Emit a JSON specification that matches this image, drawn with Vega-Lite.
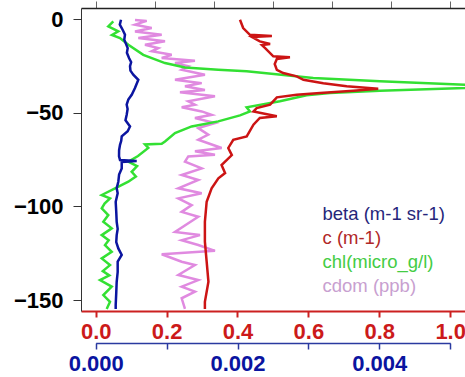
{
  "$schema": "https://vega.github.io/schema/vega-lite/v6.json",
  "width": 384,
  "height": 303,
  "autosize": {"type": "none"},
  "padding": {"left": 81, "top": 8, "right": 0, "bottom": 66},
  "background": "white",
  "config": {"view": {"stroke": null}, "axis": {"grid": false, "labelFlush": false, "labelOverlap": false, "title": null}},
  "datasets": {
    "beta": [
      {"series": "beta (m-1 sr-1)", "depth": -0.4, "value": 0.000357},
      {"series": "beta (m-1 sr-1)", "depth": -3.0, "value": 0.000340},
      {"series": "beta (m-1 sr-1)", "depth": -4.8, "value": 0.000367},
      {"series": "beta (m-1 sr-1)", "depth": -6.5, "value": 0.000390},
      {"series": "beta (m-1 sr-1)", "depth": -8.4, "value": 0.000413},
      {"series": "beta (m-1 sr-1)", "depth": -11.0, "value": 0.000403},
      {"series": "beta (m-1 sr-1)", "depth": -15.5, "value": 0.000451},
      {"series": "beta (m-1 sr-1)", "depth": -18.0, "value": 0.000440},
      {"series": "beta (m-1 sr-1)", "depth": -20.8, "value": 0.000470},
      {"series": "beta (m-1 sr-1)", "depth": -23.0, "value": 0.000500},
      {"series": "beta (m-1 sr-1)", "depth": -25.1, "value": 0.000484},
      {"series": "beta (m-1 sr-1)", "depth": -27.5, "value": 0.000490},
      {"series": "beta (m-1 sr-1)", "depth": -29.7, "value": 0.000530},
      {"series": "beta (m-1 sr-1)", "depth": -32.4, "value": 0.000601},
      {"series": "beta (m-1 sr-1)", "depth": -36.8, "value": 0.000554},
      {"series": "beta (m-1 sr-1)", "depth": -40.4, "value": 0.000508},
      {"series": "beta (m-1 sr-1)", "depth": -43.0, "value": 0.000460},
      {"series": "beta (m-1 sr-1)", "depth": -45.7, "value": 0.000437},
      {"series": "beta (m-1 sr-1)", "depth": -48.0, "value": 0.000450},
      {"series": "beta (m-1 sr-1)", "depth": -51.1, "value": 0.000437},
      {"series": "beta (m-1 sr-1)", "depth": -54.0, "value": 0.000420},
      {"series": "beta (m-1 sr-1)", "depth": -57.3, "value": 0.000484},
      {"series": "beta (m-1 sr-1)", "depth": -59.9, "value": 0.000451},
      {"series": "beta (m-1 sr-1)", "depth": -62.6, "value": 0.000367},
      {"series": "beta (m-1 sr-1)", "depth": -65.0, "value": 0.000360},
      {"series": "beta (m-1 sr-1)", "depth": -67.1, "value": 0.000343},
      {"series": "beta (m-1 sr-1)", "depth": -70.0, "value": 0.000330},
      {"series": "beta (m-1 sr-1)", "depth": -73.3, "value": 0.000329},
      {"series": "beta (m-1 sr-1)", "depth": -75.2, "value": 0.000343},
      {"series": "beta (m-1 sr-1)", "depth": -75.8, "value": 0.000578},
      {"series": "beta (m-1 sr-1)", "depth": -76.3, "value": 0.000367},
      {"series": "beta (m-1 sr-1)", "depth": -79.7, "value": 0.000367},
      {"series": "beta (m-1 sr-1)", "depth": -83.0, "value": 0.000330},
      {"series": "beta (m-1 sr-1)", "depth": -86.8, "value": 0.000319},
      {"series": "beta (m-1 sr-1)", "depth": -90.3, "value": 0.000296},
      {"series": "beta (m-1 sr-1)", "depth": -93.0, "value": 0.000310},
      {"series": "beta (m-1 sr-1)", "depth": -97.5, "value": 0.000282},
      {"series": "beta (m-1 sr-1)", "depth": -103.0, "value": 0.000290},
      {"series": "beta (m-1 sr-1)", "depth": -108.2, "value": 0.000296},
      {"series": "beta (m-1 sr-1)", "depth": -112.0, "value": 0.000310},
      {"series": "beta (m-1 sr-1)", "depth": -115.3, "value": 0.000296},
      {"series": "beta (m-1 sr-1)", "depth": -119.0, "value": 0.000290},
      {"series": "beta (m-1 sr-1)", "depth": -122.4, "value": 0.000319},
      {"series": "beta (m-1 sr-1)", "depth": -125.9, "value": 0.000367},
      {"series": "beta (m-1 sr-1)", "depth": -129.5, "value": 0.000310},
      {"series": "beta (m-1 sr-1)", "depth": -135.0, "value": 0.000310},
      {"series": "beta (m-1 sr-1)", "depth": -140.2, "value": 0.000296},
      {"series": "beta (m-1 sr-1)", "depth": -146.0, "value": 0.000290},
      {"series": "beta (m-1 sr-1)", "depth": -152.6, "value": 0.000282},
      {"series": "beta (m-1 sr-1)", "depth": -154.7, "value": 0.000282}
    ],
    "c": [
      {"series": "c (m-1)", "depth": -0.4, "value": 0.407},
      {"series": "c (m-1)", "depth": -4.8, "value": 0.416},
      {"series": "c (m-1)", "depth": -8.4, "value": 0.435},
      {"series": "c (m-1)", "depth": -9.1, "value": 0.497},
      {"series": "c (m-1)", "depth": -9.6, "value": 0.441},
      {"series": "c (m-1)", "depth": -11.9, "value": 0.463},
      {"series": "c (m-1)", "depth": -13.3, "value": 0.492},
      {"series": "c (m-1)", "depth": -13.9, "value": 0.469},
      {"series": "c (m-1)", "depth": -15.5, "value": 0.478},
      {"series": "c (m-1)", "depth": -19.9, "value": 0.501},
      {"series": "c (m-1)", "depth": -20.4, "value": 0.548},
      {"series": "c (m-1)", "depth": -21.3, "value": 0.511},
      {"series": "c (m-1)", "depth": -24.0, "value": 0.505},
      {"series": "c (m-1)", "depth": -27.1, "value": 0.511},
      {"series": "c (m-1)", "depth": -28.8, "value": 0.529},
      {"series": "c (m-1)", "depth": -30.6, "value": 0.567},
      {"series": "c (m-1)", "depth": -32.4, "value": 0.586},
      {"series": "c (m-1)", "depth": -34.2, "value": 0.642},
      {"series": "c (m-1)", "depth": -35.9, "value": 0.708},
      {"series": "c (m-1)", "depth": -37.2, "value": 0.797},
      {"series": "c (m-1)", "depth": -38.3, "value": 0.727},
      {"series": "c (m-1)", "depth": -39.5, "value": 0.633},
      {"series": "c (m-1)", "depth": -40.4, "value": 0.567},
      {"series": "c (m-1)", "depth": -41.8, "value": 0.511},
      {"series": "c (m-1)", "depth": -45.7, "value": 0.492},
      {"series": "c (m-1)", "depth": -47.5, "value": 0.454},
      {"series": "c (m-1)", "depth": -49.3, "value": 0.445},
      {"series": "c (m-1)", "depth": -51.9, "value": 0.511},
      {"series": "c (m-1)", "depth": -52.8, "value": 0.463},
      {"series": "c (m-1)", "depth": -56.4, "value": 0.445},
      {"series": "c (m-1)", "depth": -62.6, "value": 0.426},
      {"series": "c (m-1)", "depth": -64.4, "value": 0.388},
      {"series": "c (m-1)", "depth": -68.8, "value": 0.374},
      {"series": "c (m-1)", "depth": -72.6, "value": 0.384},
      {"series": "c (m-1)", "depth": -77.9, "value": 0.355},
      {"series": "c (m-1)", "depth": -82.2, "value": 0.365},
      {"series": "c (m-1)", "depth": -85.0, "value": 0.346},
      {"series": "c (m-1)", "depth": -90.3, "value": 0.327},
      {"series": "c (m-1)", "depth": -97.5, "value": 0.313},
      {"series": "c (m-1)", "depth": -108.2, "value": 0.308},
      {"series": "c (m-1)", "depth": -118.8, "value": 0.308},
      {"series": "c (m-1)", "depth": -129.5, "value": 0.313},
      {"series": "c (m-1)", "depth": -140.2, "value": 0.318},
      {"series": "c (m-1)", "depth": -150.9, "value": 0.308},
      {"series": "c (m-1)", "depth": -154.7, "value": 0.308}
    ],
    "chl": [
      {"series": "chl(micro_g/l)", "depth": -1.2, "value": 0.298},
      {"series": "chl(micro_g/l)", "depth": -3.9, "value": 0.213},
      {"series": "chl(micro_g/l)", "depth": -6.6, "value": 0.382},
      {"series": "chl(micro_g/l)", "depth": -8.5, "value": 0.276},
      {"series": "chl(micro_g/l)", "depth": -10.1, "value": 0.411},
      {"series": "chl(micro_g/l)", "depth": -13.7, "value": 0.552},
      {"series": "chl(micro_g/l)", "depth": -19.1, "value": 0.805},
      {"series": "chl(micro_g/l)", "depth": -23.5, "value": 1.173},
      {"series": "chl(micro_g/l)", "depth": -25.8, "value": 1.511},
      {"series": "chl(micro_g/l)", "depth": -27.1, "value": 2.074},
      {"series": "chl(micro_g/l)", "depth": -27.9, "value": 2.555},
      {"series": "chl(micro_g/l)", "depth": -31.5, "value": 3.682},
      {"series": "chl(micro_g/l)", "depth": -33.2, "value": 4.810},
      {"series": "chl(micro_g/l)", "depth": -35.1, "value": 6.249},
      {"series": "chl(micro_g/l)", "depth": -35.8, "value": 6.587},
      {"series": "chl(micro_g/l)", "depth": -36.8, "value": 6.249},
      {"series": "chl(micro_g/l)", "depth": -38.3, "value": 4.810},
      {"series": "chl(micro_g/l)", "depth": -39.5, "value": 3.964},
      {"series": "chl(micro_g/l)", "depth": -40.7, "value": 3.570},
      {"series": "chl(micro_g/l)", "depth": -43.9, "value": 3.118},
      {"series": "chl(micro_g/l)", "depth": -47.1, "value": 2.555},
      {"series": "chl(micro_g/l)", "depth": -49.3, "value": 2.611},
      {"series": "chl(micro_g/l)", "depth": -51.4, "value": 2.442},
      {"series": "chl(micro_g/l)", "depth": -54.6, "value": 2.074},
      {"series": "chl(micro_g/l)", "depth": -57.3, "value": 1.624},
      {"series": "chl(micro_g/l)", "depth": -60.8, "value": 1.342},
      {"series": "chl(micro_g/l)", "depth": -65.3, "value": 1.173},
      {"series": "chl(micro_g/l)", "depth": -66.6, "value": 1.117},
      {"series": "chl(micro_g/l)", "depth": -66.9, "value": 0.834},
      {"series": "chl(micro_g/l)", "depth": -68.8, "value": 0.890},
      {"series": "chl(micro_g/l)", "depth": -73.1, "value": 0.716},
      {"series": "chl(micro_g/l)", "depth": -76.1, "value": 0.552},
      {"series": "chl(micro_g/l)", "depth": -78.5, "value": 0.700},
      {"series": "chl(micro_g/l)", "depth": -81.5, "value": 0.609},
      {"series": "chl(micro_g/l)", "depth": -84.0, "value": 0.680},
      {"series": "chl(micro_g/l)", "depth": -86.8, "value": 0.552},
      {"series": "chl(micro_g/l)", "depth": -90.3, "value": 0.327},
      {"series": "chl(micro_g/l)", "depth": -93.9, "value": 0.102},
      {"series": "chl(micro_g/l)", "depth": -95.7, "value": 0.242},
      {"series": "chl(micro_g/l)", "depth": -98.5, "value": 0.150},
      {"series": "chl(micro_g/l)", "depth": -101.0, "value": 0.102},
      {"series": "chl(micro_g/l)", "depth": -104.6, "value": 0.213},
      {"series": "chl(micro_g/l)", "depth": -108.2, "value": 0.129},
      {"series": "chl(micro_g/l)", "depth": -111.7, "value": 0.271},
      {"series": "chl(micro_g/l)", "depth": -115.3, "value": 0.102},
      {"series": "chl(micro_g/l)", "depth": -118.0, "value": 0.220},
      {"series": "chl(micro_g/l)", "depth": -120.6, "value": 0.157},
      {"series": "chl(micro_g/l)", "depth": -124.2, "value": 0.271},
      {"series": "chl(micro_g/l)", "depth": -127.7, "value": 0.102},
      {"series": "chl(micro_g/l)", "depth": -131.3, "value": 0.242},
      {"series": "chl(micro_g/l)", "depth": -134.5, "value": 0.120},
      {"series": "chl(micro_g/l)", "depth": -136.8, "value": 0.230},
      {"series": "chl(micro_g/l)", "depth": -139.3, "value": 0.073},
      {"series": "chl(micro_g/l)", "depth": -142.8, "value": 0.271},
      {"series": "chl(micro_g/l)", "depth": -147.3, "value": 0.129},
      {"series": "chl(micro_g/l)", "depth": -150.9, "value": 0.242},
      {"series": "chl(micro_g/l)", "depth": -154.7, "value": 0.186}
    ],
    "cdom": [
      {"series": "cdom (ppb)", "depth": -0.5, "value": 0.665},
      {"series": "cdom (ppb)", "depth": -1.0, "value": 0.863},
      {"series": "cdom (ppb)", "depth": -3.0, "value": 0.665},
      {"series": "cdom (ppb)", "depth": -4.8, "value": 0.948},
      {"series": "cdom (ppb)", "depth": -6.6, "value": 0.665},
      {"series": "cdom (ppb)", "depth": -8.4, "value": 1.117},
      {"series": "cdom (ppb)", "depth": -10.1, "value": 0.721},
      {"series": "cdom (ppb)", "depth": -11.9, "value": 1.173},
      {"series": "cdom (ppb)", "depth": -13.7, "value": 0.834},
      {"series": "cdom (ppb)", "depth": -15.5, "value": 1.059},
      {"series": "cdom (ppb)", "depth": -17.2, "value": 0.948},
      {"series": "cdom (ppb)", "depth": -19.1, "value": 1.286},
      {"series": "cdom (ppb)", "depth": -20.8, "value": 1.117},
      {"series": "cdom (ppb)", "depth": -22.3, "value": 1.680},
      {"series": "cdom (ppb)", "depth": -23.5, "value": 1.342},
      {"series": "cdom (ppb)", "depth": -25.2, "value": 1.567},
      {"series": "cdom (ppb)", "depth": -27.1, "value": 1.455},
      {"series": "cdom (ppb)", "depth": -29.7, "value": 1.849},
      {"series": "cdom (ppb)", "depth": -32.4, "value": 1.342},
      {"series": "cdom (ppb)", "depth": -34.2, "value": 1.794},
      {"series": "cdom (ppb)", "depth": -35.9, "value": 1.511},
      {"series": "cdom (ppb)", "depth": -37.9, "value": 1.849},
      {"series": "cdom (ppb)", "depth": -39.0, "value": 1.426},
      {"series": "cdom (ppb)", "depth": -41.2, "value": 2.019},
      {"series": "cdom (ppb)", "depth": -43.9, "value": 1.567},
      {"series": "cdom (ppb)", "depth": -45.7, "value": 1.680},
      {"series": "cdom (ppb)", "depth": -47.1, "value": 1.455},
      {"series": "cdom (ppb)", "depth": -49.3, "value": 1.794},
      {"series": "cdom (ppb)", "depth": -51.1, "value": 1.963},
      {"series": "cdom (ppb)", "depth": -52.8, "value": 1.680},
      {"series": "cdom (ppb)", "depth": -55.5, "value": 2.019},
      {"series": "cdom (ppb)", "depth": -58.2, "value": 1.736},
      {"series": "cdom (ppb)", "depth": -61.7, "value": 1.905},
      {"series": "cdom (ppb)", "depth": -64.4, "value": 1.736},
      {"series": "cdom (ppb)", "depth": -68.8, "value": 2.132},
      {"series": "cdom (ppb)", "depth": -70.6, "value": 1.680},
      {"series": "cdom (ppb)", "depth": -72.4, "value": 2.019},
      {"series": "cdom (ppb)", "depth": -73.3, "value": 1.567},
      {"series": "cdom (ppb)", "depth": -76.1, "value": 1.511},
      {"series": "cdom (ppb)", "depth": -79.7, "value": 1.794},
      {"series": "cdom (ppb)", "depth": -83.2, "value": 1.455},
      {"series": "cdom (ppb)", "depth": -85.9, "value": 1.736},
      {"series": "cdom (ppb)", "depth": -90.3, "value": 1.398},
      {"series": "cdom (ppb)", "depth": -93.0, "value": 1.794},
      {"series": "cdom (ppb)", "depth": -95.7, "value": 1.398},
      {"series": "cdom (ppb)", "depth": -99.3, "value": 1.624},
      {"series": "cdom (ppb)", "depth": -102.9, "value": 1.455},
      {"series": "cdom (ppb)", "depth": -105.5, "value": 1.736},
      {"series": "cdom (ppb)", "depth": -113.6, "value": 1.342},
      {"series": "cdom (ppb)", "depth": -115.3, "value": 1.765},
      {"series": "cdom (ppb)", "depth": -118.0, "value": 1.455},
      {"series": "cdom (ppb)", "depth": -120.6, "value": 1.736},
      {"series": "cdom (ppb)", "depth": -123.7, "value": 2.019},
      {"series": "cdom (ppb)", "depth": -125.5, "value": 1.117},
      {"series": "cdom (ppb)", "depth": -129.5, "value": 1.455},
      {"series": "cdom (ppb)", "depth": -131.3, "value": 1.680},
      {"series": "cdom (ppb)", "depth": -136.6, "value": 1.398},
      {"series": "cdom (ppb)", "depth": -139.3, "value": 1.736},
      {"series": "cdom (ppb)", "depth": -142.8, "value": 1.455},
      {"series": "cdom (ppb)", "depth": -145.5, "value": 1.680},
      {"series": "cdom (ppb)", "depth": -149.0, "value": 1.455},
      {"series": "cdom (ppb)", "depth": -154.7, "value": 1.511}
    ]
  },
  "encoding": {
    "y": {
      "field": "depth", "type": "quantitative",
      "scale": {"domain": [-155.8, 5.9], "nice": false, "zero": false},
      "axis": {"values": [0, -50, -100, -150], "labelFont": "Liberation Sans", "labelFontSize": 22, "labelFontWeight": "bold", "labelColor": "black", "tickSize": 8, "tickColor": "#333", "domainColor": "#333", "labelPadding": 10}
    },
    "order": {"field": "depth", "sort": "descending"},
    "color": {
      "field": "series", "type": "nominal",
      "scale": {"domain": ["beta (m-1 sr-1)", "c (m-1)", "chl(micro_g/l)", "cdom (ppb)"], "range": ["#0b15a0", "#cc1414", "#33e033", "#e08ae0"]},
      "legend": {
        "orient": "none", "legendX": 223, "legendY": 197, "title": null, "padding": 0,
        "labelFont": "Liberation Sans", "labelFontSize": 18.5, "rowPadding": 5,
        "symbolSize": 0, "symbolOpacity": 0, "symbolStrokeWidth": 0, "labelOffset": 0,
        "encode": {"labels": {"update": {"fill": {"signal": "datum.value == 'beta (m-1 sr-1)' ? '#26267a' : datum.value == 'c (m-1)' ? '#b02828' : datum.value == 'chl(micro_g/l)' ? '#44cc44' : '#c8a0d0'"}}}}
      }
    }
  },
  "layer": [
    {
      "data": {"name": "cdom"},
      "mark": {"type": "line", "strokeWidth": 2.5, "clip": true},
      "encoding": {
        "x": {"field": "value", "type": "quantitative", "scale": {"domain": [-0.249, 6.251], "nice": false, "zero": false}, "axis": null}
      }
    },
    {
      "data": {"name": "chl"},
      "mark": {"type": "line", "strokeWidth": 2.5, "clip": true},
      "encoding": {
        "x": {"field": "value", "type": "quantitative", "scale": {"domain": [-0.249, 6.251], "nice": false, "zero": false},
          "axis": {"orient": "top", "values": [0, 1, 2, 3, 4, 5, 6], "labels": false, "tickSize": 7, "tickColor": "#666", "domainColor": "#222", "domainWidth": 1.5}}
      }
    },
    {
      "data": {"name": "beta"},
      "mark": {"type": "line", "strokeWidth": 2.5, "clip": true},
      "encoding": {
        "x": {"field": "value", "type": "quantitative", "scale": {"domain": [0, 0.005], "range": [14.7, 369.2], "nice": false, "zero": false},
          "axis": {"orient": "bottom", "offset": 32, "values": [0, 0.001, 0.002, 0.003, 0.004, 0.005], "labelExpr": "round(datum.value*1000) % 2 == 0 && datum.value < 0.0045 ? format(datum.value, '.3f') : ''",
            "labelFont": "Liberation Sans", "labelFontSize": 22, "labelFontWeight": "bold", "labelColor": "#0a14a0", "tickSize": 6, "tickColor": "#2a3aa0", "domainColor": "#2a3aa0", "domainWidth": 1.5, "tickWidth": 1.5, "labelPadding": 4}}
      }
    },
    {
      "data": {"name": "c"},
      "mark": {"type": "line", "strokeWidth": 2.5, "clip": true},
      "encoding": {
        "x": {"field": "value", "type": "quantitative", "scale": {"domain": [-0.0415, 1.0418], "nice": false, "zero": false},
          "axis": {"orient": "bottom", "values": [0, 0.2, 0.4, 0.6, 0.8, 1.0], "format": ".1f",
            "labelFont": "Liberation Sans", "labelFontSize": 22, "labelFontWeight": "bold", "labelColor": "#cc1a1a", "tickSize": 6, "tickColor": "#cc2020", "domainColor": "#cc2020", "domainWidth": 2, "tickWidth": 2, "labelPadding": 4}}
      }
    }
  ],
  "resolve": {"scale": {"x": "independent"}, "axis": {"x": "independent"}}
}
